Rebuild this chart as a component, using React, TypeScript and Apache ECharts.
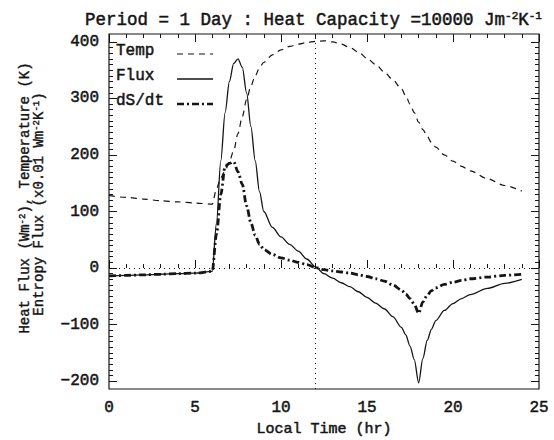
import React, { useEffect, useRef } from "react";
import * as echarts from "echarts";

// Local time (hr)
const time = [0, 1, 2, 3, 4, 5, 6, 6.25, 6.5, 6.75, 7, 7.25, 7.5, 7.75, 8, 8.25, 8.5, 8.75, 9, 9.5, 10, 10.5, 11, 11.5, 12, 12.5, 13, 13.5, 14, 14.5, 15, 15.5, 16, 16.5, 17, 17.25, 17.5, 17.75, 18, 18.25, 18.5, 18.75, 19, 19.5, 20, 20.5, 21, 22, 23, 24];
// Temperature (K)
const temp = [128, 125, 122, 119, 117, 115, 113, 140, 160, 172, 188, 208, 238, 268, 298, 322, 340, 354, 364, 377, 386, 392, 396, 399, 401, 402, 400, 396, 390, 382, 371, 360, 347, 333, 317, 305, 290, 275, 258, 245, 233, 222, 214, 200, 189, 180, 172, 158, 146, 136];
// Heat flux (W m-2)
const flux = [-14, -13, -12, -11, -10, -9, -6, 80, 190, 275, 330, 362, 370, 355, 310, 250, 190, 135, 100, 72, 55, 42, 30, 16, 2, -10, -18, -26, -33, -42, -52, -62, -72, -86, -105, -118, -138, -162, -203, -160, -128, -108, -93, -75, -63, -54, -47, -36, -27, -20];
// Entropy flux dS/dt (x0.01 W m-2 K-1)
const dsdt = [-14, -13, -12, -11, -10, -9, -6, 60, 130, 180, 185, 188, 170, 148, 110, 80, 58, 42, 33, 24, 18, 14, 10, 6, 1, -3, -5, -7, -9, -12, -15, -19, -23, -30, -39, -46, -54, -64, -80, -60, -48, -40, -35, -29, -25, -22, -19, -16, -13, -11];

const xTickValues = [0, 5, 10, 15, 20, 25];
const yTickValues = [-200, -100, 0, 100, 200, 300, 400];

const FONT = '"Liberation Mono", "DejaVu Sans Mono", monospace';
const INK = "#151515";
const HEAVY = { textBorderColor: INK, textBorderWidth: 0.5 };

export default function App() {
  const ref = useRef<HTMLDivElement>(null);
  useEffect(() => {
    const chart = echarts.init(ref.current!, null, { renderer: "svg" });
    const pairs = (arr: number[]) => time.map((t, i) => [t, arr[i]]);

    const L = 109, R = 15, T0 = 34, B0 = 51;
    const yMin0 = -214, yMax0 = 414;
    const H0 = 440 - T0 - B0;
    const py = (v: number) => T0 + ((yMax0 - v) / (yMax0 - yMin0)) * H0;
    const T1 = py(yTickValues[yTickValues.length - 1]);
    const B1 = 440 - py(yTickValues[0]);

    const tickCommon = {
      axisTick: { show: true, inside: true, length: 8, lineStyle: { color: INK, width: 1 } },
      minorTick: { show: true, length: 4, lineStyle: { color: INK, width: 1 } },
      splitLine: { show: false },
      minorSplitLine: { show: false },
      axisLine: { show: false },
    };

    const option: any = {
      animation: false,
      backgroundColor: "#ffffff",
      title: {
        text: "Period = 1 Day : Heat Capacity =10000 Jm{sup|-2}K{sup|-1}",
        left: 80,
        top: 5,
        textStyle: {
          fontFamily: FONT,
          fontSize: 17.5,
          fontWeight: "normal",
          color: INK,
          lineHeight: 20,
          ...HEAVY,
          rich: {
            sup: { fontFamily: FONT, fontSize: 11, lineHeight: 11, verticalAlign: "top", color: INK, ...HEAVY },
          },
        },
      },
      grid: [
        { left: L, right: R, top: T0, bottom: B0, show: true, borderColor: INK, borderWidth: 1.2, backgroundColor: "transparent", containLabel: false, outerBoundsMode: "none" },
        { left: L, right: R, top: T1, bottom: B1, show: false, containLabel: false, outerBoundsMode: "none" },
      ],
      xAxis: [
        {
          type: "value", gridIndex: 0, position: "bottom", min: xTickValues[0], max: xTickValues[xTickValues.length - 1], interval: 5,
          ...tickCommon,
          minorTick: { ...tickCommon.minorTick, splitNumber: 5 },
          axisLabel: { show: true, margin: 11, fontFamily: FONT, fontSize: 16, color: INK, ...HEAVY },
          name: "Local Time (hr)", nameLocation: "middle", nameGap: 33,
          nameTextStyle: { fontFamily: FONT, fontSize: 15, color: INK, ...HEAVY },
        },
        {
          type: "value", gridIndex: 0, position: "top", min: xTickValues[0], max: xTickValues[xTickValues.length - 1], interval: 5,
          ...tickCommon,
          minorTick: { ...tickCommon.minorTick, splitNumber: 5 },
          axisLabel: { show: false },
        },
        { type: "value", gridIndex: 1, show: false, min: 0, max: 1 },
      ],
      yAxis: [
        { type: "value", gridIndex: 0, show: false, min: yMin0, max: yMax0, splitLine: { show: false } },
        {
          type: "value", gridIndex: 1, position: "left", min: yTickValues[0], max: yTickValues[yTickValues.length - 1], interval: 100,
          ...tickCommon,
          minorTick: { ...tickCommon.minorTick, splitNumber: 10 },
          axisLabel: {
            show: true, margin: 10, fontFamily: FONT, fontSize: 16, color: INK, ...HEAVY,
            formatter: (v: number) => String(v).replace("-", "\u2212"),
          },
        },
        {
          type: "value", gridIndex: 1, position: "right", min: yTickValues[0], max: yTickValues[yTickValues.length - 1], interval: 100,
          ...tickCommon,
          minorTick: { ...tickCommon.minorTick, splitNumber: 10 },
          axisLabel: { show: false },
        },
      ],
      series: [
        {
          name: "Temp", type: "line", xAxisIndex: 0, yAxisIndex: 0, data: pairs(temp),
          symbol: "none", smooth: 0.3, smoothMonotone: "x",
          lineStyle: { color: INK, width: 1.2, type: [6, 5] },
          markLine: {
            silent: true, symbol: ["none", "none"], label: { show: false },
            lineStyle: { color: INK, width: 1, type: [1, 4] },
            data: [{ xAxis: 12 }, { yAxis: 0 }],
          },
        },
        {
          name: "Flux", type: "line", xAxisIndex: 0, yAxisIndex: 0, data: pairs(flux),
          symbol: "none", smooth: 0.3, smoothMonotone: "x",
          lineStyle: { color: INK, width: 1.3, type: "solid" },
        },
        {
          name: "dS/dt", type: "line", xAxisIndex: 0, yAxisIndex: 0, data: pairs(dsdt),
          symbol: "none", smooth: 0.3, smoothMonotone: "x",
          lineStyle: { color: INK, width: 2.8, type: [7, 3, 2, 3] },
        },
      ],
      graphic: [
        { type: "text", x: 116, y: 51, style: { text: "Temp", font: `16px ${FONT}`, fill: INK, stroke: INK, lineWidth: 0.5, verticalAlign: "middle" } },
        { type: "line", shape: { x1: 177, y1: 54, x2: 213, y2: 54 }, style: { stroke: INK, lineWidth: 1.2, lineDash: [6, 5] } },
        { type: "text", x: 116, y: 76, style: { text: "Flux", font: `16px ${FONT}`, fill: INK, stroke: INK, lineWidth: 0.5, verticalAlign: "middle" } },
        { type: "line", shape: { x1: 177, y1: 79, x2: 213, y2: 79 }, style: { stroke: INK, lineWidth: 1.3 } },
        { type: "text", x: 116, y: 101, style: { text: "dS/dt", font: `16px ${FONT}`, fill: INK, stroke: INK, lineWidth: 0.5, verticalAlign: "middle" } },
        { type: "line", shape: { x1: 177, y1: 104, x2: 213, y2: 104 }, style: { stroke: INK, lineWidth: 2.5, lineDash: [7, 3, 2, 3] } },
        {
          type: "text", x: 25, y: 198, rotation: Math.PI / 2,
          style: {
            text: "Heat Flux (Wm{sup|-2}), Temperature (K)",
            font: `14px ${FONT}`, fill: INK, stroke: INK, lineWidth: 0.4, align: "center", verticalAlign: "middle",
            rich: { sup: { fontFamily: FONT, fontSize: 9, lineHeight: 9, verticalAlign: "top", fill: INK } },
          },
        },
        {
          type: "text", x: 39, y: 204, rotation: Math.PI / 2,
          style: {
            text: "Entropy Flux (x0.01 Wm{sup|-2}K{sup|-1})",
            font: `14px ${FONT}`, fill: INK, stroke: INK, lineWidth: 0.4, align: "center", verticalAlign: "middle",
            rich: { sup: { fontFamily: FONT, fontSize: 9, lineHeight: 9, verticalAlign: "top", fill: INK } },
          },
        },
      ],
    };
    chart.setOption(option);
    return () => chart.dispose();
  }, []);
  return <div ref={ref} style={{ position: "fixed", left: 0, top: 0, width: 554, height: 440, background: "#fff" }} />;
}
